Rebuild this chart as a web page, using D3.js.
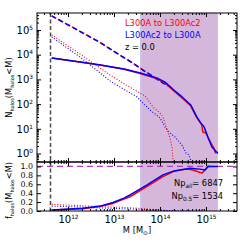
<!DOCTYPE html>
<html>
<head>
<meta charset="UTF-8">
<script src="https://d3js.org/d3.v7.min.js"></script>
<style>
  body { margin: 0; background: #fff; }
  svg { display: block; font-family: "DejaVu Sans", sans-serif; }
</style>
</head>
<body>
<svg id="chart" width="249" height="249"></svg>
<script>
// values (log10 M, log10 N, fractions)
const lgMDash = [11.646, 12.0, 12.43, 12.70, 13.06, 13.41, 13.63, 13.85, 14.07, 14.26];
const lgNDash = [5.57, 5.21, 4.77, 4.49, 4.06, 3.66, 3.38, 3.11, 2.85, 2.65];

const lgMSolidBlue = [11.646, 12.26, 12.70, 13.22, 13.57, 13.93, 14.11, 14.30, 14.48, 14.67, 14.80, 14.89, 14.96, 15.04, 15.13, 15.26];
const lgNSolidBlue = [3.87, 3.70, 3.58, 3.42, 3.26, 3.06, 2.89, 2.57, 2.29, 1.96, 1.48, 1.23, 1.07, 0.67, 0.26, 0.0];
const lgMSolidRed = [11.646, 12.26, 12.70, 13.22, 13.57, 13.93, 14.11, 14.30, 14.48, 14.67, 14.80, 14.91, 14.93, 15.0, 15.07, 15.17, 15.21];
const lgNSolidRed = [3.87, 3.70, 3.58, 3.41, 3.24, 3.03, 2.86, 2.53, 2.25, 1.92, 1.45, 1.15, 0.87, 0.83, 0.55, 0.22, 0.0];

const lgMDotRed = [11.646, 12.26, 12.913, 13.196, 13.565, 13.674, 13.848, 14.0, 14.065, 14.152, 14.217, 14.261, 14.283, 14.29];
const lgNDotRed = [4.80, 4.03, 3.18, 2.85, 2.45, 2.33, 1.88, 1.64, 1.48, 0.95, 0.63, 0.26, -0.26, -1];
const lgMDotBlue = [11.646, 12.26, 12.913, 13.022, 13.5, 13.783, 14.0, 14.109, 14.217, 14.326, 14.478, 14.565, 14.63, 14.674, 14.68];
const lgNDotBlue = [4.72, 3.91, 2.94, 2.81, 2.29, 1.76, 1.44, 1.07, 0.83, 0.67, 0.34, 0.02, -0.06, -0.3, -1];

const lgMFracBlue = [11.646, 12.326, 12.696, 12.978, 13.217, 13.348, 13.711, 14.065, 14.304, 14.435, 14.652, 14.761, 14.87, 14.978, 15.043, 15.261];
const fracBlue = [0.02, 0.06, 0.11, 0.19, 0.29, 0.36, 0.58, 0.81, 0.90, 0.92, 0.96, 0.95, 0.94, 0.92, 1.0, 1.0];
const lgMFracRed = [11.646, 12.326, 12.696, 12.978, 13.217, 13.348, 13.711, 14.065, 14.304, 14.435, 14.587, 14.717, 14.826, 14.913, 14.978, 15.043, 15.087];
const fracRed = [0.02, 0.05, 0.10, 0.17, 0.27, 0.32, 0.55, 0.77, 0.89, 0.92, 0.94, 0.92, 0.88, 0.85, 0.92, 1.0, 1.0];

const lgMFracDotRed = [11.646, 12.261, 12.696, 13.217, 13.565, 13.783, 14.0, 14.261];
const fracDotRed = [0.15, 0.12, 0.10, 0.08, 0.06, 0.04, 0.02, 0.0];
const lgMFracDotBlue = [11.646, 12.261, 12.696, 13.217, 13.565, 13.891, 14.217, 14.674];
const fracDotBlue = [0.11, 0.09, 0.07, 0.05, 0.04, 0.02, 0.01, 0.0];

const lgMCut = 11.62;
const spanBlue = [13.565, 15.255];
const spanRed = [13.61, 15.255];
const legendLabels = ["L300A to L300Ac2", "L300Ac2 to L300A", "z = 0.0"];
const npAll = 6847, np05 = 1534;

const svg = d3.select("#chart");
const left = 37, right = 237, top1 = 13, bot1 = 162, bot2 = 211;
const fs = 8.3;

const x = d3.scaleLog().domain([Math.pow(10, 11.326), Math.pow(10, 15.674)]).range([left, right]);
const yTop = d3.scaleLog().domain([Math.pow(10, -0.344), Math.pow(10, 5.688)]).range([bot1, top1]);
const yBot = d3.scaleLinear().domain([0, 1.1]).range([bot2, bot1]);

const defs = svg.append("defs");
defs.append("clipPath").attr("id", "c1").append("rect")
  .attr("x", left).attr("y", top1).attr("width", right - left).attr("height", bot1 - top1);
defs.append("clipPath").attr("id", "c2").append("rect")
  .attr("x", left).attr("y", bot1).attr("width", right - left).attr("height", bot2 - bot1);

const p1 = svg.append("g").attr("clip-path", "url(#c1)");
const p2 = svg.append("g").attr("clip-path", "url(#c2)");

// shaded mass ranges + mass cut
[p1, p2].forEach(function (p, i) {
  const yr = i === 0 ? [top1, bot1] : [bot1, bot2];
  p.append("rect").attr("x", x(Math.pow(10, spanBlue[0]))).attr("y", yr[0])
    .attr("width", x(Math.pow(10, spanBlue[1])) - x(Math.pow(10, spanBlue[0])))
    .attr("height", yr[1] - yr[0]).attr("fill", "#c9c4ee");
  p.append("rect").attr("x", x(Math.pow(10, spanRed[0]))).attr("y", yr[0])
    .attr("width", x(Math.pow(10, spanRed[1])) - x(Math.pow(10, spanRed[0])))
    .attr("height", yr[1] - yr[0]).attr("fill", "#d5b7dc");
  p.append("line").attr("x1", x(Math.pow(10, lgMCut))).attr("x2", x(Math.pow(10, lgMCut)))
    .attr("y1", yr[0]).attr("y2", yr[1])
    .attr("stroke", "#4a4a4a").attr("stroke-width", 1.5).attr("stroke-dasharray", "4,2.5");
});

const lineTop = d3.line().x(d => x(Math.pow(10, d[0]))).y(d => yTop(Math.pow(10, d[1])));
const lineBot = d3.line().x(d => x(Math.pow(10, d[0]))).y(d => yBot(d[1]));
const zip = (a, b) => a.map((v, i) => [v, b[i]]);

function draw(p, gen, xs, ys, color, dash, w, off) {
  p.append("path").datum(zip(xs, ys)).attr("d", gen)
    .attr("fill", "none").attr("stroke", color).attr("stroke-width", w)
    .attr("stroke-dasharray", dash).attr("stroke-dashoffset", off || 0)
    .attr("stroke-linejoin", "round");
}

// top panel
draw(p1, lineTop, lgMDotRed, lgNDotRed, "#ff0000", "1,1.8", 1.1);
draw(p1, lineTop, lgMDotBlue, lgNDotBlue, "#0000ff", "1,1.8", 1.1);
draw(p1, lineTop, lgMDash, lgNDash, "#ff0000", "5,3", 1.5, 1);
draw(p1, lineTop, lgMDash, lgNDash, "#0000ff", "5,3", 1.5);
draw(p1, lineTop, lgMSolidRed, lgNSolidRed, "#ff0000", null, 1.5);
draw(p1, lineTop, lgMSolidBlue, lgNSolidBlue, "#0000ff", null, 1.5);

// bottom panel
p2.append("line").attr("x1", left).attr("x2", right).attr("y1", yBot(1)).attr("y2", yBot(1))
  .attr("stroke", "#b23cc0").attr("stroke-width", 1.3).attr("stroke-dasharray", "6,4");
draw(p2, lineBot, lgMFracDotRed, fracDotRed, "#ff0000", "1,1.8", 1.1);
draw(p2, lineBot, lgMFracDotBlue, fracDotBlue, "#0000ff", "1,1.8", 1.1);
draw(p2, lineBot, lgMFracRed, fracRed, "#ff0000", null, 1.5);
draw(p2, lineBot, lgMFracBlue, fracBlue, "#0000ff", null, 1.5);

// ticks
function minorLog(lo, hi) {
  const out = [];
  for (let e = lo; e <= hi; e++) for (let k = 2; k <= 9; k++) out.push(k * Math.pow(10, e));
  return out;
}
const xMajor = [1e12, 1e13, 1e14, 1e15];
const xMinor = minorLog(11, 15).filter(v => v > x.domain()[0] && v < x.domain()[1]);
const yMajor = [1, 10, 100, 1e3, 1e4, 1e5];
const yMinor = minorLog(-1, 5).filter(v => v > yTop.domain()[0] && v < yTop.domain()[1]);
const fTicks = [0, 0.2, 0.4, 0.6, 0.8, 1.0];

function sup(sel) {
  sel.selectAll(".tick text").each(function (d) {
    const t = d3.select(this);
    t.text(null);
    t.append("tspan").text("10");
    t.append("tspan").attr("dy", -4).attr("font-size", fs * 0.7).text(Math.round(Math.log10(d)));
  });
}

function axes(ySc, y0, y1, yMaj, yMin, showX) {
  const g = svg.append("g").attr("font-size", fs);
  const ax = g.append("g").attr("transform", `translate(0,${y1})`)
    .call(d3.axisBottom(x).tickValues(xMajor).tickSize(-4).tickSizeOuter(0).tickPadding(5)
      .tickFormat(showX ? d => d : ""));
  if (showX) sup(ax);
  g.append("g").attr("transform", `translate(0,${y1})`)
    .call(d3.axisBottom(x).tickValues(xMinor).tickSize(-2).tickSizeOuter(0).tickFormat(""));
  g.append("g").attr("transform", `translate(0,${y0})`)
    .call(d3.axisTop(x).tickValues(xMajor).tickSize(-4).tickSizeOuter(0).tickFormat(""));
  g.append("g").attr("transform", `translate(0,${y0})`)
    .call(d3.axisTop(x).tickValues(xMinor).tickSize(-2).tickSizeOuter(0).tickFormat(""));
  const ay = g.append("g").attr("transform", `translate(${left},0)`)
    .call(d3.axisLeft(ySc).tickValues(yMaj).tickSize(-4).tickSizeOuter(0).tickPadding(4)
      .tickFormat(yMin ? d => d : d3.format(".1f")));
  if (yMin) sup(ay);
  else ay.selectAll("text").attr("font-size", 7.9);
  g.append("g").attr("transform", `translate(${right},0)`)
    .call(d3.axisRight(ySc).tickValues(yMaj).tickSize(-4).tickSizeOuter(0).tickFormat(""));
  if (yMin) {
    g.append("g").attr("transform", `translate(${left},0)`)
      .call(d3.axisLeft(ySc).tickValues(yMin).tickSize(-2).tickSizeOuter(0).tickFormat(""));
    g.append("g").attr("transform", `translate(${right},0)`)
      .call(d3.axisRight(ySc).tickValues(yMin).tickSize(-2).tickSizeOuter(0).tickFormat(""));
  }
  g.selectAll(".domain").remove();
  g.selectAll("text").attr("fill", "#000").attr("font-family", "DejaVu Sans");
  svg.append("rect").attr("x", left).attr("y", y0).attr("width", right - left).attr("height", y1 - y0)
    .attr("fill", "none").attr("stroke", "#000").attr("stroke-width", 1);
}
axes(yTop, top1, bot1, yMajor, yMinor, false);
axes(yBot, bot1, bot2, fTicks, null, true);

// legend text
const legColors = ["#ff0000", "#0000ff", "#000000"];
legendLabels.forEach(function (s, i) {
  svg.append("text").attr("x", 125).attr("y", 25.5 + i * 12).attr("font-size", fs)
    .attr("fill", legColors[i]).text(s);
});

// particle counts
const t1 = svg.append("text").attr("x", 223).attr("y", 186).attr("text-anchor", "end").attr("font-size", fs);
t1.append("tspan").text("Np");
t1.append("tspan").attr("dy", 2).attr("font-size", fs * 0.7).attr("font-style", "italic").text("all");
t1.append("tspan").attr("dy", -2).text("= " + npAll);
const t2 = svg.append("text").attr("x", 223).attr("y", 199).attr("text-anchor", "end").attr("font-size", fs);
t2.append("tspan").text("Np");
t2.append("tspan").attr("dy", 2).attr("font-size", fs * 0.7).text("0.5");
t2.append("tspan").attr("dy", -2).text("= " + np05);

// axis titles
const xl = svg.append("text").attr("x", (left + right) / 2).attr("y", 233)
  .attr("text-anchor", "middle").attr("font-size", fs);
xl.append("tspan").text("M [M");
xl.append("tspan").attr("dy", 2).attr("font-size", fs * 0.7).text("⊙");
xl.append("tspan").attr("dy", -2).text("]");

function ylab(cx, cy, letter) {
  const t = svg.append("text").attr("transform", `translate(${cx},${cy}) rotate(-90)`)
    .attr("text-anchor", "middle").attr("font-size", fs);
  t.append("tspan").text(letter);
  t.append("tspan").attr("dy", 2).attr("font-size", fs * 0.6).text("halos");
  t.append("tspan").attr("dy", -2).text("(M");
  t.append("tspan").attr("dy", 2).attr("font-size", fs * 0.6).text("halos");
  t.append("tspan").attr("dy", -2).text("<M)");
}
ylab(12, (top1 + bot1) / 2, "N");
ylab(12, (bot1 + bot2) / 2 + 4, "f");
</script>
</body>
</html>
